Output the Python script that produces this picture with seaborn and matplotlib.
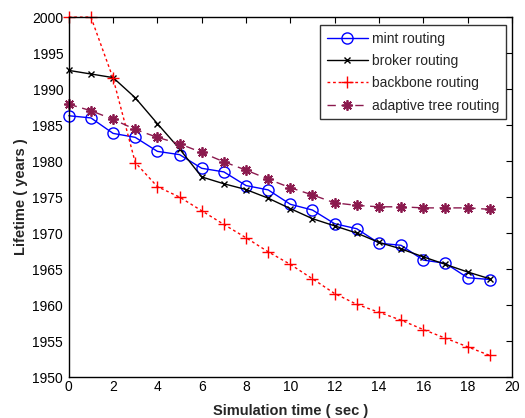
import numpy as np
import pandas as pd
import matplotlib
matplotlib.use("Agg")
import matplotlib.pyplot as plt
import seaborn as sns

time_sec = list(range(20))
mint = [1986.3, 1986.0, 1983.85, 1983.3, 1981.35, 1980.9, 1979.0, 1978.5, 1976.6, 1976.0,
        1974.0, 1973.2, 1971.3, 1970.6, 1968.6, 1968.3, 1966.25, 1965.8, 1963.8, 1963.55]
broker = [1992.6, 1992.1, 1991.6, 1988.8, 1985.2, 1981.7, 1977.8, 1976.85, 1976.05, 1974.85,
          1973.4, 1972.0, 1971.0, 1970.0, 1968.7, 1967.8, 1966.7, 1965.65, 1964.6, 1963.65]
backbone = [2000.0, 2000.0, 1991.5, 1979.8, 1976.45, 1975.0, 1973.1, 1971.2, 1969.35, 1967.4,
            1965.65, 1963.65, 1961.6, 1960.1, 1959.0, 1957.9, 1956.6, 1955.4, 1954.2, 1953.0]
adaptive = [1987.9, 1987.0, 1985.8, 1984.4, 1983.3, 1982.4, 1981.2, 1979.9, 1978.75, 1977.5,
            1976.3, 1975.3, 1974.2, 1973.85, 1973.65, 1973.65, 1973.5, 1973.5, 1973.5, 1973.3]
series_names = ["mint routing", "broker routing", "backbone routing", "adaptive tree routing"]
x_ticks = list(range(0, 21, 2))
y_ticks = list(range(1950, 2001, 5))

sns.set_style("white")
plt.rcParams["font.family"] = ["Liberation Sans", "DejaVu Sans"]

fig = plt.figure(figsize=(5.25, 4.18), dpi=100)
ax = fig.add_axes([0.131, 0.098, 0.844, 0.861])

styles = [
    dict(color="#0000ff", linestyle="-", marker="o", markersize=8, markerfacecolor="none",
         markeredgecolor="#0000ff", markeredgewidth=1.0),
    dict(color="black", linestyle="-", marker="x", markersize=4, markeredgecolor="black",
         markeredgewidth=1.0),
    dict(color="#ff0000", linestyle=(0, (2, 2)), marker="+", markersize=9,
         markeredgecolor="#ff0000", markeredgewidth=1.0),
    dict(color="#8b1a4e", linestyle=(0, (6, 4)), marker=(8, 2, 0), markersize=7.5,
         markeredgecolor="#8b1a4e", markeredgewidth=1.3),
]
for name, vals, st in zip(series_names, [mint, broker, backbone, adaptive], styles):
    df = pd.DataFrame({"t": time_sec, "v": vals})
    sns.lineplot(data=df, x="t", y="v", ax=ax, label=name, linewidth=1.0, clip_on=False, **st)

ax.set_xlim(0, 20)
ax.set_ylim(1950, 2000)
ax.set_xticks(x_ticks)
ax.set_yticks(y_ticks)
ax.tick_params(direction="in", top=True, right=True, length=4, width=0.8, labelsize=10,
               colors="black")
ax.tick_params(axis="x", pad=2)
ax.tick_params(axis="y", pad=4)
for s in ax.spines.values():
    s.set_color("black")
    s.set_linewidth(1.0)
ax.set_xlabel("Simulation time ( sec )", fontsize=10.5, fontweight="bold", labelpad=7)
ax.set_ylabel("Lifetime ( years )", fontsize=10.5, fontweight="bold", labelpad=3)

leg = ax.legend(loc="upper right", bbox_to_anchor=(0.993, 0.985), frameon=True, fancybox=False,
                edgecolor="black", fontsize=10, handlelength=3.0, borderpad=0.45,
                labelspacing=0.6, handletextpad=0.3, borderaxespad=0.2)
leg.get_frame().set_linewidth(1.0)

fig.savefig("out.png", dpi=100)
